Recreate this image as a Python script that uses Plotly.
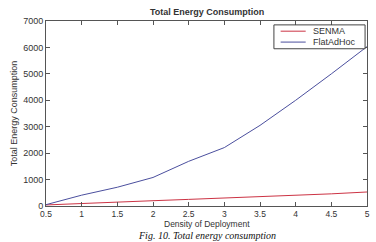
import plotly.graph_objects as go

density = [0.5, 1, 1.5, 2, 2.5, 3, 3.5, 4, 4.5, 5]
senma = [40, 100, 150, 200, 250, 300, 350, 410, 460, 530]
flatadhoc = [50, 410, 710, 1080, 1690, 2210, 3050, 4000, 5000, 6030]
x_ticks = [0.5, 1, 1.5, 2, 2.5, 3, 3.5, 4, 4.5, 5]
x_tick_text = ["0.5", "1", "1.5", "2", "2.5", "3", "3.5", "4", "4.5", "5"]
y_ticks = [0, 1000, 2000, 3000, 4000, 5000, 6000, 7000]
series_names = ["SENMA", "FlatAdHoc"]
series_colors = ["#cc3344", "#4b4f9e"]

fig = go.Figure()
for name, vals, col in zip(series_names, [senma, flatadhoc], series_colors):
    fig.add_trace(go.Scatter(x=density, y=vals, mode="lines", name=name,
                             line=dict(color=col, width=1), showlegend=False))

font_sans = "Liberation Sans, Arial"
axis_common = dict(showgrid=False, zeroline=False, showline=True, linecolor="#555",
                   linewidth=1, mirror="ticks", ticks="inside", ticklen=4,
                   tickcolor="#555", tickfont=dict(family=font_sans, size=9, color="#333"))

# manual compact legend (MATLAB style box)
shapes = [dict(type="rect", xref="paper", yref="paper", x0=0.710, x1=0.994, y0=0.850, y1=0.979,
               line=dict(color="#444", width=1), fillcolor="white", layer="above")]
annotations = []
row_y = [0.945, 0.886]
for name, col, yy in zip(series_names, series_colors, row_y):
    shapes.append(dict(type="line", xref="paper", yref="paper", x0=0.731, x1=0.809, y0=yy, y1=yy,
                       line=dict(color=col, width=1), layer="above"))
    annotations.append(dict(text=name, xref="paper", yref="paper", x=0.828, y=yy,
                            xanchor="left", yanchor="middle", showarrow=False, borderpad=0,
                            font=dict(family=font_sans, size=9, color="#333")))

annotations += [
    dict(text="<b>Total Energy Consumption</b>", xref="paper", yref="paper",
         x=0.5, y=1, yanchor="bottom", yshift=2, showarrow=False,
         font=dict(family=font_sans, size=9, color="#333")),
    dict(text="Density of Deployment", xref="paper", yref="paper",
         x=0.5, y=0, yanchor="middle", yshift=-18, showarrow=False, borderpad=0,
         font=dict(family=font_sans, size=8.5, color="#333")),
    dict(text="<i>Fig. 10. Total energy consumption</i>", xref="paper", yref="paper",
         x=0.5, y=0, yanchor="bottom", yshift=-36, showarrow=False, borderpad=0,
         font=dict(family="Liberation Serif, Times New Roman", size=10, color="#111")),
]

fig.update_layout(
    width=376, height=242,
    margin=dict(l=46, r=6, t=21, b=36),
    paper_bgcolor="white", plot_bgcolor="white",
    showlegend=False,
    xaxis=dict(range=[0.5, 5], tickvals=x_ticks, ticktext=x_tick_text,
               **{**axis_common, "tickfont": dict(family=font_sans, size=8.5, color="#333")}),
    yaxis=dict(range=[0, 7000], tickvals=y_ticks,
               title=dict(text="Total Energy Consumption", standoff=4,
                          font=dict(family=font_sans, size=9, color="#333")),
               **axis_common),
    shapes=shapes,
    annotations=annotations,
)

fig.write_html("out.html")
